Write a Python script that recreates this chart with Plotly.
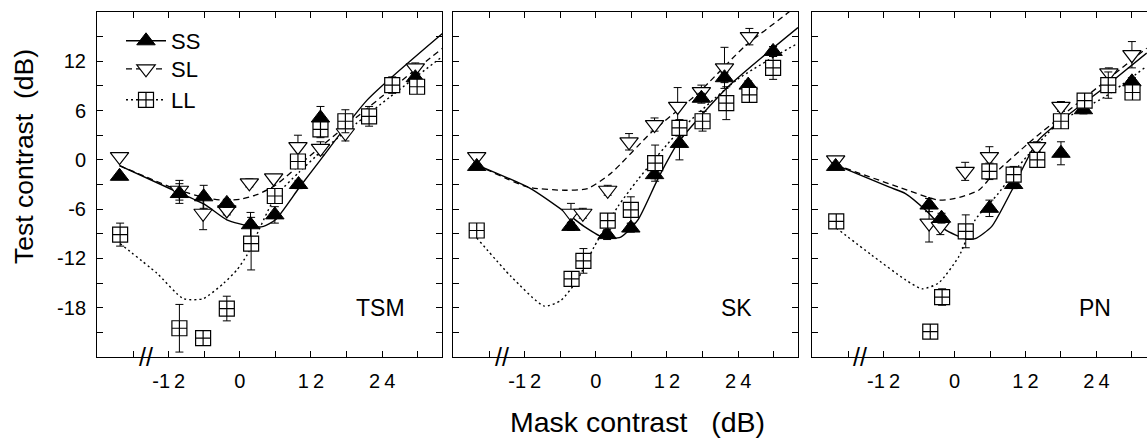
import plotly.graph_objects as go

# ---------------- data ----------------
panels = ["TSM", "SK", "PN"]

# Panel 1 (TSM)
tsm_ss_x = [-20.3, -10.2, -6.1, -2.2, 1.8, 5.9, 9.9, 13.6, 29.6]
tsm_ss_y = [-2.0, -4.1, -4.5, -5.3, -7.9, -6.7, -3.0, 5.1, 10.0]
tsm_ss_e = [0, 1.2, 1.4, 0.5, 1.5, 1.0, 0.5, 1.4, 0.5]
tsm_sl_x = [-20.3, -10.2, -6.2, -2.2, 1.6, 5.7, 9.8, 13.6, 17.8, 29.6]
tsm_sl_y = [0.4, -3.7, -6.5, -6.1, -2.8, -2.2, 1.6, 1.4, 3.3, 11.2]
tsm_sl_e = [0, 1.2, 2.0, 0.6, 0.5, 0.4, 1.4, 0.8, 1.0, 0.6]
tsm_ll_x = [-20.2, -10.2, -6.2, -2.2, 1.9, 5.9, 9.8, 13.6, 17.8, 21.8, 25.7, 29.9]
tsm_ll_y = [-9.1, -20.5, -21.7, -18.1, -10.2, -4.4, -0.2, 3.7, 4.7, 5.3, 9.1, 8.9]
tsm_ll_e = [1.4, 2.9, 0.9, 1.5, 3.2, 0.8, 0.8, 1.0, 1.4, 1.2, 1.0, 0.8]
tsm_ssfit_x = [-20.3, -11.2, -6, -2.2, 1.8, 4, 6, 10, 13.6, 21.5, 34.2]
tsm_ssfit_y = [-0.7, -3.7, -5.4, -7.3, -8.1, -8.1, -7.3, -3.4, 0, 7.3, 15.4]
tsm_slfit_x = [-20.3, -11, -6, -3, 0, 3, 6, 12, 18, 26, 34.2]
tsm_slfit_y = [-0.7, -3.5, -4.6, -4.9, -4.8, -4.2, -3.1, 0.6, 4.2, 8.9, 13.6]
tsm_llfit_x = [-20.2, -14, -9.5, -6.2, -2.7, -0.5, 1.2, 6, 10, 14, 18, 25.4, 34.2]
tsm_llfit_y = [-10.2, -13.8, -16.9, -16.9, -15.0, -13.4, -11.6, -4.5, -1.5, 1.2, 3.5, 7.7, 12.6]

# Panel 2 (SK)
sk_ss_x = [-20.1, -4.2, 1.9, 5.9, 9.9, 14.1, 17.8, 21.7, 25.7, 29.9]
sk_ss_y = [-0.8, -8.1, -9.1, -8.3, -1.8, 2.0, 7.5, 10.0, 9.1, 13.2]
sk_ss_e = [0, 0.5, 0.6, 0.5, 0.5, 2.0, 0.6, 0.6, 0.5, 0.6]
sk_sl_x = [-20.1, -4.2, -2.2, 2.0, 5.6, 9.9, 13.8, 17.8, 21.7, 25.9]
sk_sl_y = [0.4, -6.5, -6.5, -3.7, 2.2, 4.3, 6.5, 8.3, 11.2, 15.0]
sk_sl_e = [0, 1.2, 0.6, 0.6, 1.0, 0.8, 2.3, 0.8, 2.5, 1.0]
sk_ll_x = [-20.1, -4.1, -2.1, 2.0, 5.9, 10.0, 14.1, 18.0, 22.0, 25.9, 29.9]
sk_ll_y = [-8.6, -14.5, -12.3, -7.4, -6.1, -0.4, 3.9, 4.7, 6.9, 7.9, 11.2]
sk_ll_e = [0.8, 0.6, 1.5, 0.6, 1.6, 2.2, 1.0, 1.2, 2.0, 0.6, 1.4]
sk_ssfit_x = [-20.1, -11, -5.3, -2, 1.4, 4.2, 7.1, 10.4, 13.8, 22.3, 34.1]
sk_ssfit_y = [-0.6, -3.5, -6.3, -8.1, -9.5, -9.4, -7.3, -2.4, 2.0, 8.9, 16.1]
sk_slfit_x = [-20.1, -11.5, -5.3, -1.4, 2.6, 9.3, 17.2, 25.1, 32.4, 34.1]
sk_slfit_y = [-0.6, -3.3, -3.7, -3.5, -1.6, 3.3, 8.1, 13.8, 17.9, 19.0]
sk_llfit_x = [-20.1, -14.3, -8.7, -5.9, -3.1, -0.3, 3.7, 7.1, 13.8, 23.9, 34.1]
sk_llfit_y = [-9.5, -14.2, -17.8, -17.1, -14.6, -10.6, -5.7, -2.4, 3.3, 9.8, 14.2]

# Panel 3 (PN)
pn_ss_x = [-20.1, -4.3, -2.2, 5.9, 10.0, 18.0, 21.8, 30.0]
pn_ss_y = [-0.8, -5.5, -7.1, -5.9, -3.0, 0.8, 6.1, 9.5]
pn_ss_e = [0, 0.8, 0.6, 1.0, 0.5, 1.4, 0.5, 0.5]
pn_sl_x = [-20.1, -4.3, -2.4, 1.8, 5.9, 13.9, 18.0, 26.1, 30.0]
pn_sl_y = [0.0, -7.7, -8.1, -1.4, 0.4, 1.6, 6.5, 10.6, 12.8]
pn_sl_e = [0.3, 2.3, 1.0, 1.1, 1.2, 0.6, 0.6, 0.6, 1.6]
pn_ll_x = [-20.0, -4.1, -2.1, 1.9, 5.9, 10.0, 14.0, 18.0, 22.0, 26.0, 30.1]
pn_ll_y = [-7.5, -20.9, -16.7, -8.7, -1.4, -1.8, 0.0, 4.7, 7.2, 9.1, 8.2]
pn_ll_e = [0.5, 0.4, 1.0, 2.0, 1.0, 1.0, 0.8, 0.8, 0.6, 1.6, 0.8]
pn_ssfit_x = [-20.1, -11.1, -8.3, -4.9, -1.6, 1.8, 3.5, 6.3, 9.7, 14.2, 25.5, 32.5]
pn_ssfit_y = [-0.6, -3.3, -4.1, -6.1, -8.5, -9.6, -9.6, -8.1, -3.7, 2.4, 8.9, 13.0]
pn_slfit_x = [-20.1, -9.5, -2.7, 0.1, 4.1, 6.3, 13.1, 19.8, 32.5]
pn_slfit_y = [-0.6, -3.3, -4.9, -4.7, -3.7, -2.0, 2.4, 6.3, 13.6]
pn_llfit_x = [-20.0, -14, -8.3, -5.5, -2.7, 0.7, 3.5, 7.4, 10.8, 17.6, 25.5, 32.5]
pn_llfit_y = [-8.3, -11.6, -14.6, -15.7, -15.0, -11.8, -7.3, -4.1, -0.8, 4.5, 7.7, 11.4]

x_tickvals = [-18, -12, -6, 0, 6, 12, 18, 24, 30]
x_ticktext = ["", "-1\u20092", "", "0", "", "1\u20092", "", "2\u20094", ""]
y_tickvals = [-21, -18, -15, -12, -9, -6, -3, 0, 3, 6, 9, 12, 15]
y_ticktext = ["", "-18", "", "-12", "", "-6", "", "0", "", "6", "", "12", ""]

series_names = ["SS", "SL", "LL"]

# ---------------- styles ----------------
FONT = "Liberation Sans, Arial, Helvetica, sans-serif"
marker_styles = {
    "SS": dict(symbol="triangle-up", size=16, color="black", line=dict(color="black", width=1)),
    "SL": dict(symbol="triangle-down", size=16, color="white", line=dict(color="black", width=1.2)),
    "LL": dict(symbol="square-cross", size=15, color="white", line=dict(color="black", width=1.2)),
}
line_styles = {
    "SS": dict(color="black", width=1.4, dash="solid", shape="spline", smoothing=0.6),
    "SL": dict(color="black", width=1.3, dash="6px,4px", shape="spline", smoothing=0.6),
    "LL": dict(color="black", width=1.4, dash="2px,3px", shape="spline", smoothing=0.6),
}

panel_data = [
    {"SS": (tsm_ss_x, tsm_ss_y, tsm_ss_e), "SL": (tsm_sl_x, tsm_sl_y, tsm_sl_e), "LL": (tsm_ll_x, tsm_ll_y, tsm_ll_e),
     "fit": {"SS": (tsm_ssfit_x, tsm_ssfit_y), "SL": (tsm_slfit_x, tsm_slfit_y), "LL": (tsm_llfit_x, tsm_llfit_y)}},
    {"SS": (sk_ss_x, sk_ss_y, sk_ss_e), "SL": (sk_sl_x, sk_sl_y, sk_sl_e), "LL": (sk_ll_x, sk_ll_y, sk_ll_e),
     "fit": {"SS": (sk_ssfit_x, sk_ssfit_y), "SL": (sk_slfit_x, sk_slfit_y), "LL": (sk_llfit_x, sk_llfit_y)}},
    {"SS": (pn_ss_x, pn_ss_y, pn_ss_e), "SL": (pn_sl_x, pn_sl_y, pn_sl_e), "LL": (pn_ll_x, pn_ll_y, pn_ll_e),
     "fit": {"SS": (pn_ssfit_x, pn_ssfit_y), "SL": (pn_slfit_x, pn_slfit_y), "LL": (pn_llfit_x, pn_llfit_y)}},
]

W, H = 1147, 438
fig = go.Figure()

for i, pdata in enumerate(panel_data):
    xa = "x" if i == 0 else f"x{i+1}"
    ya = "y" if i == 0 else f"y{i+1}"
    for name in series_names:
        fx, fy = pdata["fit"][name]
        fig.add_trace(go.Scatter(x=fx, y=fy, mode="lines", line=line_styles[name],
                                 xaxis=xa, yaxis=ya, showlegend=False, hoverinfo="skip"))
    for name in ["SL", "SS", "LL"]:
        dx, dy, de = pdata[name]
        fig.add_trace(go.Scatter(x=dx, y=dy, mode="markers", marker=marker_styles[name],
                                 error_y=dict(type="data", array=de, color="black", thickness=1, width=4),
                                 xaxis=xa, yaxis=ya, showlegend=False))

# legend-only traces, one legend per row so the rows can sit as in the reference
legend_ids = {"SS": "legend", "SL": "legend2", "LL": "legend3"}
for name in series_names:
    ls = dict(line_styles[name])
    ls.pop("shape"); ls.pop("smoothing")
    fig.add_trace(go.Scatter(x=[None], y=[None], mode="lines+markers", name=name,
                             line=ls, marker=marker_styles[name], xaxis="x", yaxis="y",
                             legend=legend_ids[name]))

# ---------------- layout ----------------
px_x = lambda p: p / W
px_y = lambda p: 1 - p / H
ydom = [px_y(357), px_y(12)]
xdoms = [[px_x(97), px_x(442)], [px_x(453), px_x(798)], [px_x(812), 1.0]]
xranges = [[-24.1, 34.1], [-24.1, 34.1], [-24.1, 32.55]]

axis_common = dict(showline=True, linecolor="black", linewidth=1, ticks="inside", ticklen=6,
                   tickcolor="black", tickwidth=1, showgrid=False, zeroline=False,
                   tickfont=dict(family=FONT, size=20, color="black"))

layout = dict(width=W, height=H, margin=dict(l=0, r=0, t=0, b=0),
              plot_bgcolor="white", paper_bgcolor="white",
              font=dict(family=FONT, color="black"))
for i in range(3):
    xk = "xaxis" if i == 0 else f"xaxis{i+1}"
    yk = "yaxis" if i == 0 else f"yaxis{i+1}"
    layout[xk] = dict(axis_common, domain=xdoms[i], range=xranges[i], anchor="y" if i == 0 else f"y{i+1}",
                      tickvals=x_tickvals, ticktext=x_ticktext, mirror="ticks", ticklabelstandoff=6)
    layout[yk] = dict(axis_common, domain=ydom, range=[-24, 18], anchor="x" if i == 0 else f"x{i+1}",
                      tickvals=y_tickvals, ticktext=y_ticktext if i == 0 else [""] * len(y_tickvals),
                      mirror="ticks" if i < 2 else False, ticklabelstandoff=6)

legend_rows = {"legend": 41, "legend2": 69, "legend3": 100}
for lid, row in legend_rows.items():
    layout[lid] = dict(x=px_x(121), y=px_y(row), xanchor="left", yanchor="middle",
                       bgcolor="rgba(0,0,0,0)", borderwidth=0, itemwidth=40,
                       font=dict(family=FONT, size=22, color="black"))

annotations = []
for i, name in enumerate(panels):
    xr = "x" if i == 0 else f"x{i+1}"
    yr = "y" if i == 0 else f"y{i+1}"
    annotations.append(dict(x=23.8, y=-18.0, xref=xr, yref=yr, text=name, showarrow=False,
                            font=dict(family=FONT, size=23, color="black")))
    annotations.append(dict(x=-15.9, y=-24, xref=xr, yref=yr, text="//", showarrow=False,
                            yanchor="middle", xanchor="center",
                            font=dict(family=FONT, size=25, color="black")))
annotations.append(dict(x=px_x(24), y=px_y(157), xref="paper", yref="paper",
                        xanchor="center", yanchor="middle",
                        text="Test contrast\u00a0\u00a0(dB)", textangle=-90, showarrow=False,
                        font=dict(family=FONT, size=26.5, color="black")))
annotations.append(dict(x=px_x(637), y=px_y(422), xref="paper", yref="paper",
                        xanchor="center", yanchor="middle",
                        text="Mask contrast\u00a0\u00a0\u00a0(dB)", showarrow=False,
                        font=dict(family=FONT, size=28.5, color="black")))
layout["annotations"] = annotations
fig.update_layout(**layout)

fig.write_html("out.html")
